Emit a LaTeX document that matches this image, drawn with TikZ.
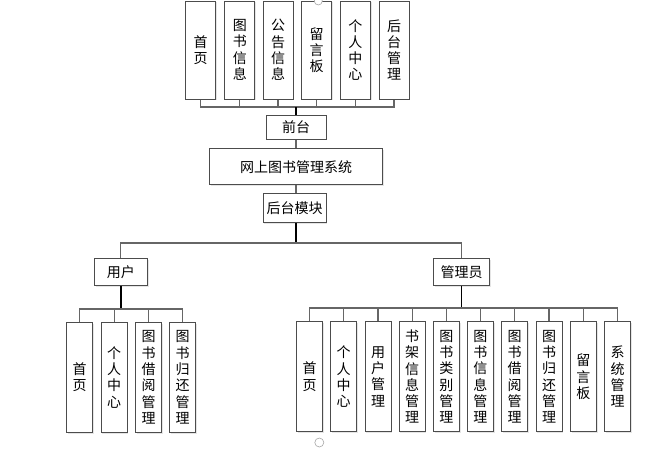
\documentclass[tikz,border=0pt]{standalone}
\usepackage{fontspec}
\setmainfont{Noto Sans CJK SC}
\usetikzlibrary{shadows}
\begin{document}
\begin{tikzpicture}[x=1pt,y=-1pt,
  box/.style={draw=black!70,line width=1pt,fill=white,inner sep=0pt,align=center,
    font=\fontsize{14}{16.3}\selectfont,
    drop shadow={shadow xshift=1.2pt,shadow yshift=-1.2pt,opacity=0.25,fill=black!40}},
  vbox/.style={box,minimum width=26pt,minimum height=110pt,text width=20pt},
  tbox/.style={box,minimum width=30pt,minimum height=98pt,text width=24pt},
  thin/.style={draw=black!60,line width=1.1pt},
  thick/.style={draw=black,line width=1.8pt},
  handle/.style={draw=black!35,fill=white,line width=0.6pt}]
\useasboundingbox (0,0) rectangle (663,448);
% top front modules
\node[tbox] (t1) at (200.7,50) {首\\页};
\node[tbox] (t2) at (239.8,50) {图\\书\\信\\息};
\node[tbox] (t3) at (278.0,50) {公\\告\\信\\息};
\node[tbox] (t4) at (316.5,50) {留\\言\\板};
\node[tbox] (t5) at (355.3,50) {个\\人\\中\\心};
\node[tbox] (t6) at (394.0,50) {后\\台\\管\\理};
\coordinate (fbar) at (296,107);
\node[box,minimum width=60pt,minimum height=24pt] (qt) at (296,127) {前台};
\node[box,minimum width=173pt,minimum height=36.5pt] (sys) at (296,166.7) {网上图书管理系统};
\node[box,minimum width=63pt,minimum height=29.5pt] (ht) at (294.5,208) {后台模块};
\coordinate (hbar) at (296,243);
\node[box,minimum width=53pt,minimum height=27.4pt] (yh) at (120.8,272) {用户};
\node[box,minimum width=56pt,minimum height=27.4pt] (gl) at (461.5,272) {管理员};
% user leaves
\coordinate (ubar) at (120.8,309);
\node[vbox] (u1) at (79.7,377.3) {首\\页};
\node[vbox] (u2) at (114.2,377.3) {个\\人\\中\\心};
\node[vbox] (u3) at (148.5,377.3) {图\\书\\借\\阅\\管\\理};
\node[vbox] (u4) at (182.5,377.3) {图\\书\\归\\还\\管\\理};
% admin leaves
\coordinate (gbar) at (461.5,308);
\node[vbox] (g1) at (309.7,376.7) {首\\页};
\node[vbox] (g2) at (343.7,376.7) {个\\人\\中\\心};
\node[vbox] (g3) at (378.0,376.7) {用\\户\\管\\理};
\node[vbox] (g4) at (412.2,376.7) {书\\架\\信\\息\\管\\理};
\node[vbox] (g5) at (446.3,376.7) {图\\书\\类\\别\\管\\理};
\node[vbox] (g6) at (480.3,376.7) {图\\书\\信\\息\\管\\理};
\node[vbox] (g7) at (514.7,376.7) {图\\书\\借\\阅\\管\\理};
\node[vbox] (g8) at (549.0,376.7) {图\\书\\归\\还\\管\\理};
\node[vbox] (g9) at (583.3,376.7) {留\\言\\板};
\node[vbox] (g10) at (617.5,376.7) {系\\统\\管\\理};
% connectors
\foreach \n in {t1,t2,t3,t4,t5,t6} \draw[thin] (\n.south) |- (fbar);
\draw[thick] (fbar) -- (qt.north);
\draw[thin] (qt.south) -- (sys.north);
\draw[thin] (sys.south) -- (ht.north -| sys.south);
\draw[thick] (ht.south -| hbar) -- (hbar);
\draw[thin] (yh.north) |- (hbar);
\draw[thin] (gl.north) |- (hbar);
\draw[thick] (yh.south) -- (ubar);
\foreach \n in {u1,u2,u3,u4} \draw[thin] (\n.north) |- (ubar);
\draw[thick] (gl.south) -- (gbar);
\foreach \n in {g1,g2,g3,g4,g5,g6,g7,g8,g9,g10} \draw[thin] (\n.north) |- (gbar);
% selection handles
\draw[handle] (318.3,1) circle (4);
\draw[handle] (319.3,442.5) circle (4.5);
\end{tikzpicture}
\end{document}
